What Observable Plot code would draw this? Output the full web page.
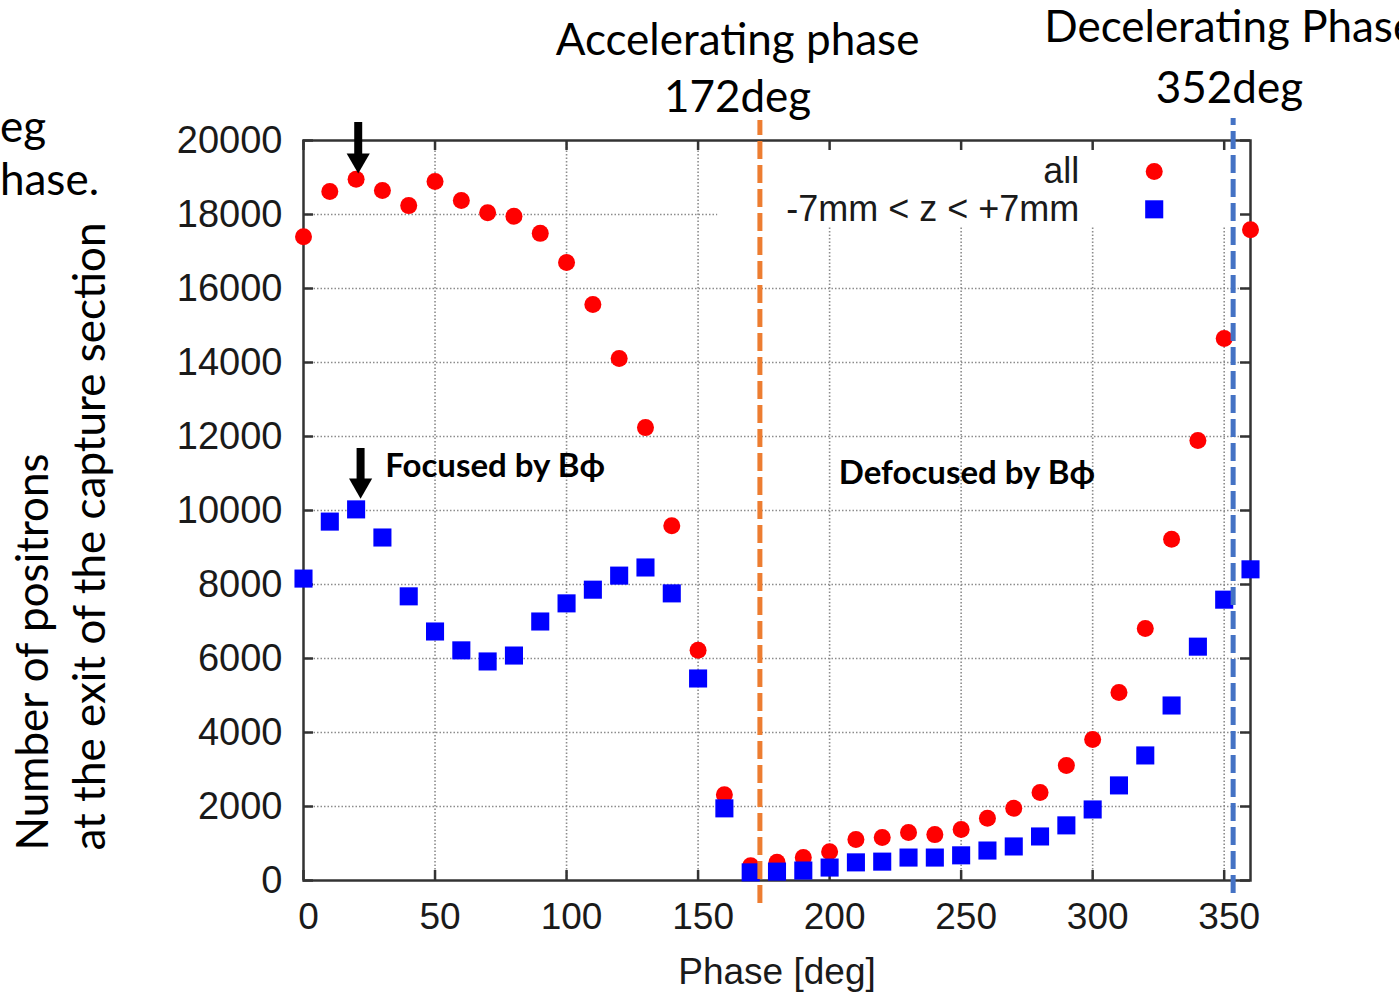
<!DOCTYPE html>
<html><head><meta charset="utf-8">
<script src="https://cdn.jsdelivr.net/npm/d3@7"></script>
<script src="https://cdn.jsdelivr.net/npm/@observablehq/plot@0.6"></script>
<style>body{margin:0;background:#fff;overflow:hidden} svg{display:block}</style>
</head><body><div id="chart"></div><script>
// Phase [deg]
const phases = [0,10,20,30,40,50,60,70,80,90,100,110,120,130,140,150,160,170,180,190,200,210,220,230,240,250,260,270,280,290,300,310,320,330,340,350,360];
// "all"
const allCounts = [17400,18620,18950,18650,18240,18890,18380,18050,17950,17490,16700,15570,14110,12240,9590,6220,2320,400,490,620,780,1110,1160,1300,1240,1380,1680,1950,2380,3110,3810,5080,6810,9220,11890,14650,17590];
// "-7mm < z < +7mm"
const zCounts = [8160,9700,10030,9270,7680,6730,6220,5920,6080,7000,7490,7860,8240,8460,7760,5460,1950,220,240,270,350,490,510,620,620,680,810,920,1190,1490,1920,2570,3380,4730,6320,7590,8410];

const xTicks = [0,50,100,150,200,250,300,350];
const yTicks = [0,2000,4000,6000,8000,10000,12000,14000,16000,18000,20000];

const seriesNames = ["all", "-7mm < z < +7mm"];
const seriesColors = ["#ff0000", "#0000ff"];

// phase marker lines (position)
const phaseLines = [
  {x: 173.5, y1: -620, y2: 20540, color: "#ED7D31"},
  {x: 353.4, y1: -350, y2: 20595, color: "#4472C4"}
];
const centeredLabels = [
  {x: 165.0, y: 22703, text: "Accelerating phase"},
  {x: 165.0, y: 21162, text: "172deg"},
  {x: 352.0, y: 21405, text: "352deg"}
];
const startLabels = [
  {x: 281.6, y: 23054, text: "Decelerating Phase"},
  {x: -115.4, y: 20351, text: "eg"},
  {x: -115.4, y: 18919, text: "hase."}
];
const boldLabels = [
  {x: 31.1, y: 11189, text: "Focused by Bϕ"},
  {x: 203.5, y: 11000, text: "Defocused by Bϕ"}
];
const arrows = [
  {x: 20.8, top: 20486, base: 19595, head: 19468},
  {x: 21.7, top: 11676, base: 10811, head: 10681}
];
const legendRows = [
  {name: seriesNames[0], y: 19160, textX: 294.9, markX: 323.4, color: seriesColors[0]},
  {name: seriesNames[1], y: 18140, textX: 294.9, markX: 323.4, color: seriesColors[1]}
];
const legendMask = {x1: 157.5, x2: 360, y1: 17650, y2: 20000};
const tickLenX = 3.8, tickLenY = 270;

const rows = phases.map((p, i) => ({phase: p, all: allCounts[i], z: zCounts[i]}));

const cal = "Lato, 'DejaVu Sans', sans-serif";
const ari = "'Liberation Sans', Arial, sans-serif";

const plot = Plot.plot({
  width: 1399, height: 993,
  marginLeft: 303, marginRight: 149, marginTop: 140, marginBottom: 113,
  x: {domain: [0, 360], label: null},
  y: {domain: [0, 20000], label: null},
  style: {fontFamily: ari, fontSize: "37px", background: "white", color: "#1a1a1a", overflow: "visible"},
  marks: [
    // grid
    Plot.ruleY(yTicks.filter(d => d > 0 && d < 20000), {stroke: "#8c8c8c", strokeWidth: 1.6, strokeDasharray: "1.5,2"}),
    Plot.ruleX(xTicks.filter(d => d > 0), {stroke: "#8c8c8c", strokeWidth: 1.6, strokeDasharray: "1.5,2"}),
    Plot.rect([legendMask], {x1: "x1", x2: "x2", y1: "y1", y2: "y2", fill: "white"}),
    // inward ticks
    Plot.ruleX(xTicks, {x: d => d, y1: 0, y2: tickLenY, stroke: "#333", strokeWidth: 2.5}),
    Plot.ruleX(xTicks, {x: d => d, y1: 20000 - tickLenY, y2: 20000, stroke: "#333", strokeWidth: 2.5}),
    Plot.ruleY(yTicks, {y: d => d, x1: 0, x2: tickLenX, stroke: "#333", strokeWidth: 2.5}),
    Plot.ruleY(yTicks, {y: d => d, x1: 360 - tickLenX, x2: 360, stroke: "#333", strokeWidth: 2.5}),
    Plot.frame({stroke: "#333", strokeWidth: 2.5}),
    // tick labels
    Plot.axisX({ticks: xTicks, tickSize: 0, tickPadding: 22, dx: 5, tickFormat: d => String(d), fontSize: 37, fontFamily: ari, label: null}),
    Plot.axisY({ticks: yTicks, tickSize: 0, tickPadding: 21, tickFormat: d => String(d), fontSize: 38, fontFamily: ari, label: null}),
    // axis titles
    Plot.text(["Phase [deg]"], {frameAnchor: "bottom", dy: 103, fontSize: 37, fontFamily: ari}),
    Plot.text(["Number of positrons"], {frameAnchor: "bottom-left", rotate: -90, textAnchor: "start", dx: -256, dy: -30, fontSize: 44, fontFamily: cal, fill: "#000"}),
    Plot.text(["at the exit of the capture section"], {frameAnchor: "bottom-left", rotate: -90, textAnchor: "start", dx: -199, dy: -30, fontSize: 44, fontFamily: cal, fill: "#000"}),
    // data
    Plot.dot(rows, {x: "phase", y: "all", r: 8.5, fill: seriesColors[0], symbol: "circle"}),
    Plot.dot(rows, {x: "phase", y: "z", r: 10.2, fill: seriesColors[1], symbol: "square"}),
    // legend
    Plot.text(legendRows, {x: "textX", y: "y", text: "name", textAnchor: "end", fontSize: 36, fontFamily: ari}),
    Plot.dot(legendRows.slice(0, 1), {x: "markX", y: "y", r: 8.5, fill: seriesColors[0], symbol: "circle"}),
    Plot.dot(legendRows.slice(1), {x: "markX", y: "y", r: 10.2, fill: seriesColors[1], symbol: "square"}),
    // phase lines
    Plot.ruleX(phaseLines, {x: "x", y1: "y1", y2: "y2", stroke: "color", strokeWidth: 5, strokeDasharray: "18,6"}),
    // arrows
    Plot.ruleX(arrows, {x: "x", y1: "base", y2: "top", stroke: "#000", strokeWidth: 8}),
    Plot.dot(arrows, {x: "x", y: "head", symbol: "triangle", rotate: 180, r: 8.6, fill: "#000"}),
    // annotations
    Plot.text(centeredLabels, {x: "x", y: "y", text: "text", textAnchor: "middle", fontSize: 44, fontFamily: cal, fill: "#000"}),
    Plot.text(startLabels, {x: "x", y: "y", text: "text", textAnchor: "start", fontSize: 44, fontFamily: cal, fill: "#000"}),
    Plot.text(boldLabels, {x: "x", y: "y", text: "text", textAnchor: "start", fontSize: 33, fontWeight: "bold", fontFamily: cal, fill: "#000"})
  ]
});
document.getElementById("chart").appendChild(plot);
</script></body></html>
